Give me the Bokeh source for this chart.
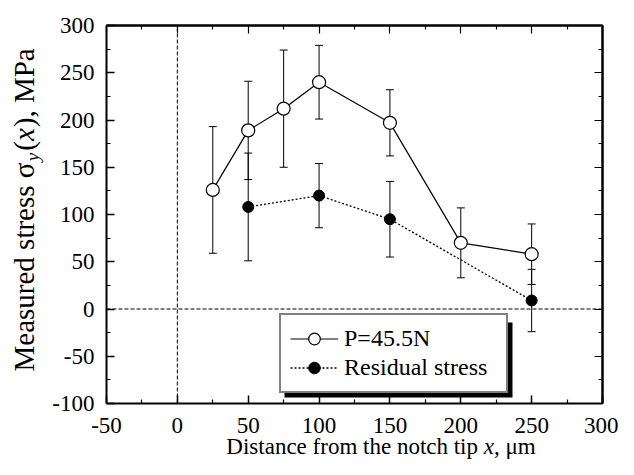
import math
from bokeh.plotting import figure
from bokeh.models import (Range1d, LinearAxis, FixedTicker, Whisker, TeeHead,
                          ColumnDataSource, Legend, LegendItem, Label,
                          BoxAnnotation, Grid)
from bokeh.embed import file_html
from bokeh.resources import INLINE

# ---- data ----
x_load = [25, 50, 75, 100, 150, 200, 250]
y_load = [126, 189, 212, 240, 197, 70, 58]
err_load = [67, 52, 62, 39, 35, 37, 32]

x_res = [50, 100, 150, 250]
y_res = [108, 120, 95, 9]
err_res = [57, 34, 40, 33]

x_ticks = [-50, 0, 50, 100, 150, 200, 250, 300]
y_ticks = [-100, -50, 0, 50, 100, 150, 200, 250, 300]
legend_labels = ["P=45.5N", "Residual stress"]

FONT = "Liberation Serif"

x_minor = [(a + b) / 2 for a, b in zip(x_ticks[:-1], x_ticks[1:])]
y_minor = [(a + b) / 2 for a, b in zip(y_ticks[:-1], y_ticks[1:])]

# ---- layout (pixels) ----
W, H = 618, 459
BOX_L, BOX_R, BOX_T, BOX_B = 106, 602, 25, 403
kx = (BOX_R - BOX_L) / (x_ticks[-1] - x_ticks[0])
ky = (BOX_B - BOX_T) / (y_ticks[-1] - y_ticks[0])
x_range = Range1d(x_ticks[0] - BOX_L / kx, x_ticks[-1] + (W - BOX_R) / kx)
y_range = Range1d(y_ticks[0] - (H - BOX_B) / ky, y_ticks[-1] + BOX_T / ky)

p = figure(width=W, height=H, output_backend="svg", toolbar_location=None,
           x_range=x_range, y_range=y_range,
           x_axis_location=None, y_axis_location=None,
           min_border=0, min_border_left=0, min_border_right=0,
           min_border_top=0, min_border_bottom=0)
p.outline_line_color = None
p.background_fill_color = "white"
p.border_fill_color = "white"
for r in p.select(type=Grid):
    r.visible = False


def base_axis(loc, bounds):
    ax = LinearAxis(fixed_location=loc, bounds=bounds)
    ax.axis_line_width = 2
    ax.axis_line_color = "black"
    ax.major_tick_out = 0
    ax.minor_tick_out = 0
    ax.major_tick_line_width = 1.5
    ax.minor_tick_line_width = 1.2
    ax.major_tick_line_color = "black"
    ax.minor_tick_line_color = "black"
    return ax


def labelled_axis(loc, bounds, ticks, minor, standoff):
    ax = base_axis(loc, bounds)
    ax.ticker = FixedTicker(ticks=ticks, minor_ticks=minor)
    ax.major_label_overrides = {t: str(t) for t in ticks}
    ax.major_tick_in = 8
    ax.minor_tick_in = 4
    ax.major_label_text_font = FONT
    ax.major_label_text_font_size = "23px"
    ax.major_label_text_color = "black"
    ax.major_label_standoff = standoff
    return ax


def plain_axes(loc, bounds, ticks, minor):
    a1 = base_axis(loc, bounds)
    a1.ticker = FixedTicker(ticks=[], minor_ticks=ticks)
    a1.minor_tick_in = 8
    a2 = base_axis(loc, bounds)
    a2.ticker = FixedTicker(ticks=[], minor_ticks=minor)
    a2.minor_tick_in = 4
    return a1, a2


xb = (x_ticks[0], x_ticks[-1])
yb = (y_ticks[0], y_ticks[-1])
p.add_layout(labelled_axis(y_ticks[0], xb, x_ticks, x_minor, 14), "below")
p.add_layout(labelled_axis(x_ticks[0], yb, y_ticks, y_minor, 12), "left")
for ax in plain_axes(y_ticks[-1], xb, x_ticks, x_minor):
    p.add_layout(ax, "above")
for ax in plain_axes(x_ticks[-1], yb, y_ticks, y_minor):
    p.add_layout(ax, "right")

# reference dashed lines at x=0 and y=0
p.segment(x0=[0], y0=[y_ticks[0]], x1=[0], y1=[y_ticks[-1]],
          line_color="black", line_dash="4 2", line_width=1)
p.segment(x0=[x_ticks[0]], y0=[0], x1=[x_ticks[-1]], y1=[0],
          line_color="black", line_dash="4 2", line_width=1)

# error bars
src_load = ColumnDataSource(dict(x=x_load, y=y_load,
                                 up=[v + e for v, e in zip(y_load, err_load)],
                                 lo=[v - e for v, e in zip(y_load, err_load)]))
src_res = ColumnDataSource(dict(x=x_res, y=y_res,
                                up=[v + e for v, e in zip(y_res, err_res)],
                                lo=[v - e for v, e in zip(y_res, err_res)]))
for src in (src_load, src_res):
    p.add_layout(Whisker(source=src, base="x", upper="up", lower="lo",
                         dimension="height", line_color="black", line_width=1,
                         level="underlay",
                         upper_head=TeeHead(size=8, line_color="black", line_width=1),
                         lower_head=TeeHead(size=8, line_color="black", line_width=1)))

l1 = p.line("x", "y", source=src_load, line_color="black", line_width=1.2)
l2 = p.line("x", "y", source=src_res, line_color="black", line_width=1.3,
            line_dash="2 2")
s1 = p.scatter("x", "y", source=src_load, marker="circle", size=13,
               fill_color="white", line_color="black", line_width=1.2)
s2 = p.scatter("x", "y", source=src_res, marker="circle", size=11,
               fill_color="black", line_color="black")

# legend shadow + legend (screen units, origin bottom-left of canvas)
LG_L, LG_B = 279, H - 393
p.add_layout(BoxAnnotation(left=LG_L + 5, right=LG_L + 233, bottom=LG_B - 4, top=LG_B + 71,
                           left_units="screen", right_units="screen",
                           bottom_units="screen", top_units="screen",
                           fill_color="black", fill_alpha=1, line_color=None,
                           level="annotation"))
legend = Legend(items=[LegendItem(label=legend_labels[0], renderers=[l1, s1]),
                       LegendItem(label=legend_labels[1], renderers=[l2, s2])],
                location=(LG_L, LG_B), margin=0, padding=9, spacing=0,
                label_height=29, glyph_height=29, glyph_width=48,
                label_standoff=6, label_width=153,
                label_text_font=FONT, label_text_font_size="24px",
                label_text_color="black",
                border_line_color="black", border_line_width=2,
                background_fill_color="white", background_fill_alpha=1)
p.add_layout(legend, "center")

# y axis title: Measured stress σ_y(x), MPa  (reads bottom to top)
FY = 29
FS = 19
y0 = H - 371
base_x = 33                       # baseline position of the rotated text
bx = base_x + 0.217 * FY          # anchor = bottom of text box
bx_sub = base_x + 5 + 0.217 * FS
w1 = 7.215 * FY
ylab = [
    ("Measured stress \u03c3", y0, bx, FY, "normal"),
    ("y", y0 + w1 + 1, bx_sub, FS, "italic"),
    ("(", y0 + w1 + 11.5, bx, FY, "normal"),
    ("x", y0 + w1 + 11.5 + 0.333 * FY, bx, FY, "italic"),
    ("), MPa", y0 + w1 + 11.5 + 0.333 * FY + 0.444 * FY + 1, bx, FY, "normal"),
]
for txt, yy, xx, fs, st in ylab:
    p.add_layout(Label(x=xx, y=yy, x_units="screen", y_units="screen", text=txt,
                       angle=math.pi / 2, text_align="left",
                       text_baseline="bottom",
                       text_font=FONT, text_font_size=f"{fs}px",
                       text_font_style=st, text_color="black"))

# x axis title: Distance from the notch tip x, μm
FX = 23
wa = 11.193 * FX
x0 = 381 - (wa + 0.444 * FX + 1.854 * FX) / 2
by = 1                            # bottom of text box, just inside the canvas
xlab = [
    ("Distance from the notch tip", x0, "normal"),
    ("x", x0 + wa, "italic"),
    (", \u03bcm", x0 + wa + 0.444 * FX, "normal"),
]
for txt, xx, st in xlab:
    p.add_layout(Label(x=xx, y=by, x_units="screen", y_units="screen", text=txt,
                       text_align="left", text_baseline="bottom",
                       text_font=FONT, text_font_size=f"{FX}px",
                       text_font_style=st, text_color="black"))

open("out.html", "w").write(file_html(p, INLINE))
